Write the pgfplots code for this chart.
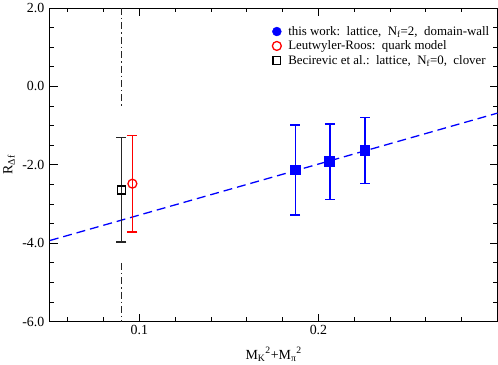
\documentclass[border=0pt]{standalone}
\usepackage{pgfplots}
\pgfplotsset{compat=1.18}
\usepackage{fontspec}
\setmainfont{Liberation Serif}

\begin{document}
\begin{tikzpicture}
\begin{axis}[
    scale only axis,
    width=451pt, height=316pt,
    xmin=0.05, xmax=0.3,
    ymin=-6, ymax=2,
    xtick={0.1,0.2},
    minor xtick={0.06,0.08,0.12,0.14,0.16,0.18,0.22,0.24,0.26,0.28},
    ytick={-6,-4,...,2},
    minor ytick={-5.5,-5,...,1.5},
    xtick pos=both, ytick pos=both,
    tick align=inside,
    major tick length=8pt,
    minor tick length=4.5pt,
    major tick style={black, line width=1pt},
    minor tick style={black, line width=1pt},
    axis line style={line width=1pt},
    xticklabel style={/pgf/number format/.cd, fixed, precision=1, zerofill, assume math mode=true},
    yticklabel style={xshift=-2pt, /pgf/number format/.cd, fixed, precision=1, zerofill, assume math mode=true},
    ticklabel style={font=\fontsize{14}{16}\selectfont},
    label style={font=\fontsize{14}{16}\selectfont},
    xlabel={M\textsubscript{K}\textsuperscript{2}+M\textsubscript{π}\textsuperscript{2}},
    ylabel={R\textsubscript{Δf}},
    xlabel style={yshift=-6pt},
    ylabel style={yshift=1pt},
    clip=true,
    legend cell align=left,
    legend style={at={(rel axis cs:0.49,0.955)}, anchor=north west, draw=none, fill=none,
        font=\fontsize{13}{16}\selectfont, row sep=0pt, column sep=5pt},
]
% fit line
\addplot[blue, line width=1.3pt, dash pattern=on 9pt off 5pt, forget plot]
    coordinates {(0.05,-3.93) (0.3,-0.68)};
% vertical dash-dot line
\addplot[black!85, line width=1.2pt, dash pattern=on 7pt off 3pt on 1.5pt off 3pt, forget plot]
    coordinates {(0.09,2) (0.09,-0.5)};
\addplot[black!85, line width=1.2pt, dash pattern=on 7pt off 3pt on 1.5pt off 3pt, forget plot]
    coordinates {(0.09,-4.5) (0.09,-6)};
% this work
\addplot[blue, only marks, mark=square*, mark size=4.8pt, line width=1.3pt, forget plot,
    error bars/.cd, y dir=both, y explicit,
    error bar style={draw=blue, line width=1.3pt},
    error mark options={draw=blue, mark size=5pt, line width=1.3pt, rotate=90}]
    coordinates {(0.187,-2.13) +- (0,1.15)
                 (0.2064,-1.92) +- (0,0.96)
                 (0.226,-1.64) +- (0,0.84)};
% Leutwyler-Roos
\addplot[red, only marks, mark=o, mark size=4.5pt, line width=1.3pt, mark options={fill=white}, forget plot,
    error bars/.cd, y dir=both, y explicit,
    error bar style={draw=red, line width=1.3pt},
    error mark options={draw=red, mark size=5pt, line width=1.3pt, rotate=90}]
    coordinates {(0.0961,-2.48) +- (0,1.23)};
% Becirevic
\addplot[black, only marks, mark=square, mark size=4pt, line width=1.3pt, mark options={fill=white}, forget plot,
    error bars/.cd, y dir=both, y explicit,
    error bar style={draw=black!85, line width=1.3pt},
    error mark options={draw=black!85, mark size=5pt, line width=1.3pt, rotate=90}]
    coordinates {(0.0899,-2.64) +- (0,1.33)};
\addlegendimage{only marks, mark=*, blue, mark size=4.5pt}
\addlegendentry{this work:\ \ lattice,\ \ N\textsubscript{f}=2,\ \ domain-wall}
\addlegendimage{only marks, mark=o, red, mark size=4.5pt, line width=1.3pt}
\addlegendentry{Leutwyler-Roos:\ \ quark model}
\addlegendimage{only marks, mark=square, black, mark size=4pt, line width=1.3pt}
\addlegendentry{Becirevic et al.:\ \ lattice,\ \ N\textsubscript{f}=0,\ \ clover}
\end{axis}
\end{tikzpicture}
\end{document}
